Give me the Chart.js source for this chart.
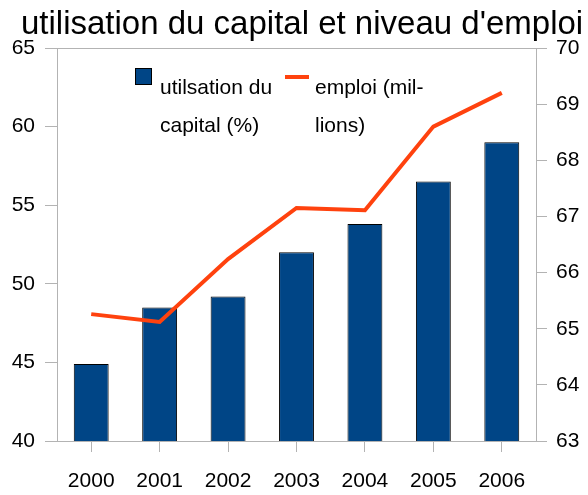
<!DOCTYPE html>
<html>
<head>
<meta charset="utf-8">
<script src="https://cdn.jsdelivr.net/npm/chart.js@4/dist/chart.umd.min.js"></script>
<style>
  html, body { margin: 0; padding: 0; background: #fff; }
  canvas { display: block; }
</style>
</head>
<body>
<canvas id="chart" width="588" height="495"></canvas>
<script>
var years = ['2000', '2001', '2002', '2003', '2004', '2005', '2006'];
var capital = [44.9, 48.5, 49.2, 52.0, 53.8, 56.5, 59.0];
var emploi = [65.26, 65.12, 66.24, 67.15, 67.11, 68.6, 69.2];
var titleText = "utilisation du capital et niveau d'emploi";
var legendCapital = ['utilsation du', 'capital (%)'];
var legendEmploi = ['emploi (mil-', 'lions)'];

var blue = '#004586';
var orange = '#ff420e';
var gridCol = '#b3b3b3';
var font = '"Liberation Sans", Arial, sans-serif';

// title, top frame line and the two-line legend
var decor = {
  id: 'decor',
  afterDraw: function (chart) {
    var c = chart.ctx, a = chart.chartArea;
    c.save();
    c.strokeStyle = gridCol;
    c.lineWidth = 1;
    c.beginPath();
    c.moveTo(a.left, a.top + 0.5);
    c.lineTo(a.right, a.top + 0.5);
    c.stroke();

    c.fillStyle = '#000';
    c.font = '33px ' + font;
    c.textBaseline = 'alphabetic';
    c.textAlign = 'left';
    c.fillText(titleText, 21, 34);

    // legend
    c.font = '21px ' + font;
    c.fillStyle = blue;
    c.fillRect(135, 68, 17, 17);
    c.strokeStyle = '#000';
    c.lineWidth = 1;
    c.strokeRect(135.5, 68.5, 16, 16);
    c.fillStyle = '#000';
    c.fillText(legendCapital[0], 160, 94);
    c.fillText(legendCapital[1], 160, 132);

    c.strokeStyle = orange;
    c.lineWidth = 4;
    c.beginPath();
    c.moveTo(285, 77);
    c.lineTo(309, 77);
    c.stroke();
    c.fillText(legendEmploi[0], 315, 94);
    c.fillText(legendEmploi[1], 315, 132);
    c.restore();
  }
};

new Chart(document.getElementById('chart'), {
  type: 'bar',
  data: {
    labels: years,
    datasets: [{
      type: 'line',
      label: 'emploi (millions)',
      data: emploi,
      yAxisID: 'y1',
      borderColor: orange,
      borderWidth: 4,
      pointRadius: 0,
      tension: 0,
      order: 0
    }, {
      label: 'utilsation du capital (%)',
      data: capital,
      yAxisID: 'y',
      backgroundColor: blue,
      borderColor: '#000',
      borderWidth: 1,
      barPercentage: 0.51,
      categoryPercentage: 1,
      order: 1
    }]
  },
  plugins: [decor],
  options: {
    responsive: false,
    animation: false,
    layout: { padding: { top: 48, left: 0, right: 0, bottom: 0 } },
    plugins: {
      legend: { display: false },
      title: { display: false },
      tooltip: { enabled: false }
    },
    scales: {
      x: {
        grid: { offset: false, drawOnChartArea: false, tickLength: 11, color: gridCol },
        border: { color: gridCol },
        ticks: { color: '#000', font: { size: 21, family: font }, padding: 17 },
        afterFit: function (s) { s.height = 54; }
      },
      y: {
        position: 'left',
        min: 40, max: 65,
        grid: { drawOnChartArea: false, tickLength: 12, color: gridCol },
        border: { color: gridCol },
        ticks: { stepSize: 5, color: '#000', font: { size: 21, family: font }, padding: 10 },
        afterFit: function (s) { s.width = 57; }
      },
      y1: {
        position: 'right',
        min: 63, max: 70,
        grid: { drawOnChartArea: false, tickLength: 11, color: gridCol },
        border: { color: gridCol },
        ticks: { stepSize: 1, color: '#000', font: { size: 21, family: font }, padding: 9 },
        afterFit: function (s) { s.width = 52; }
      }
    }
  }
});
</script>
</body>
</html>
